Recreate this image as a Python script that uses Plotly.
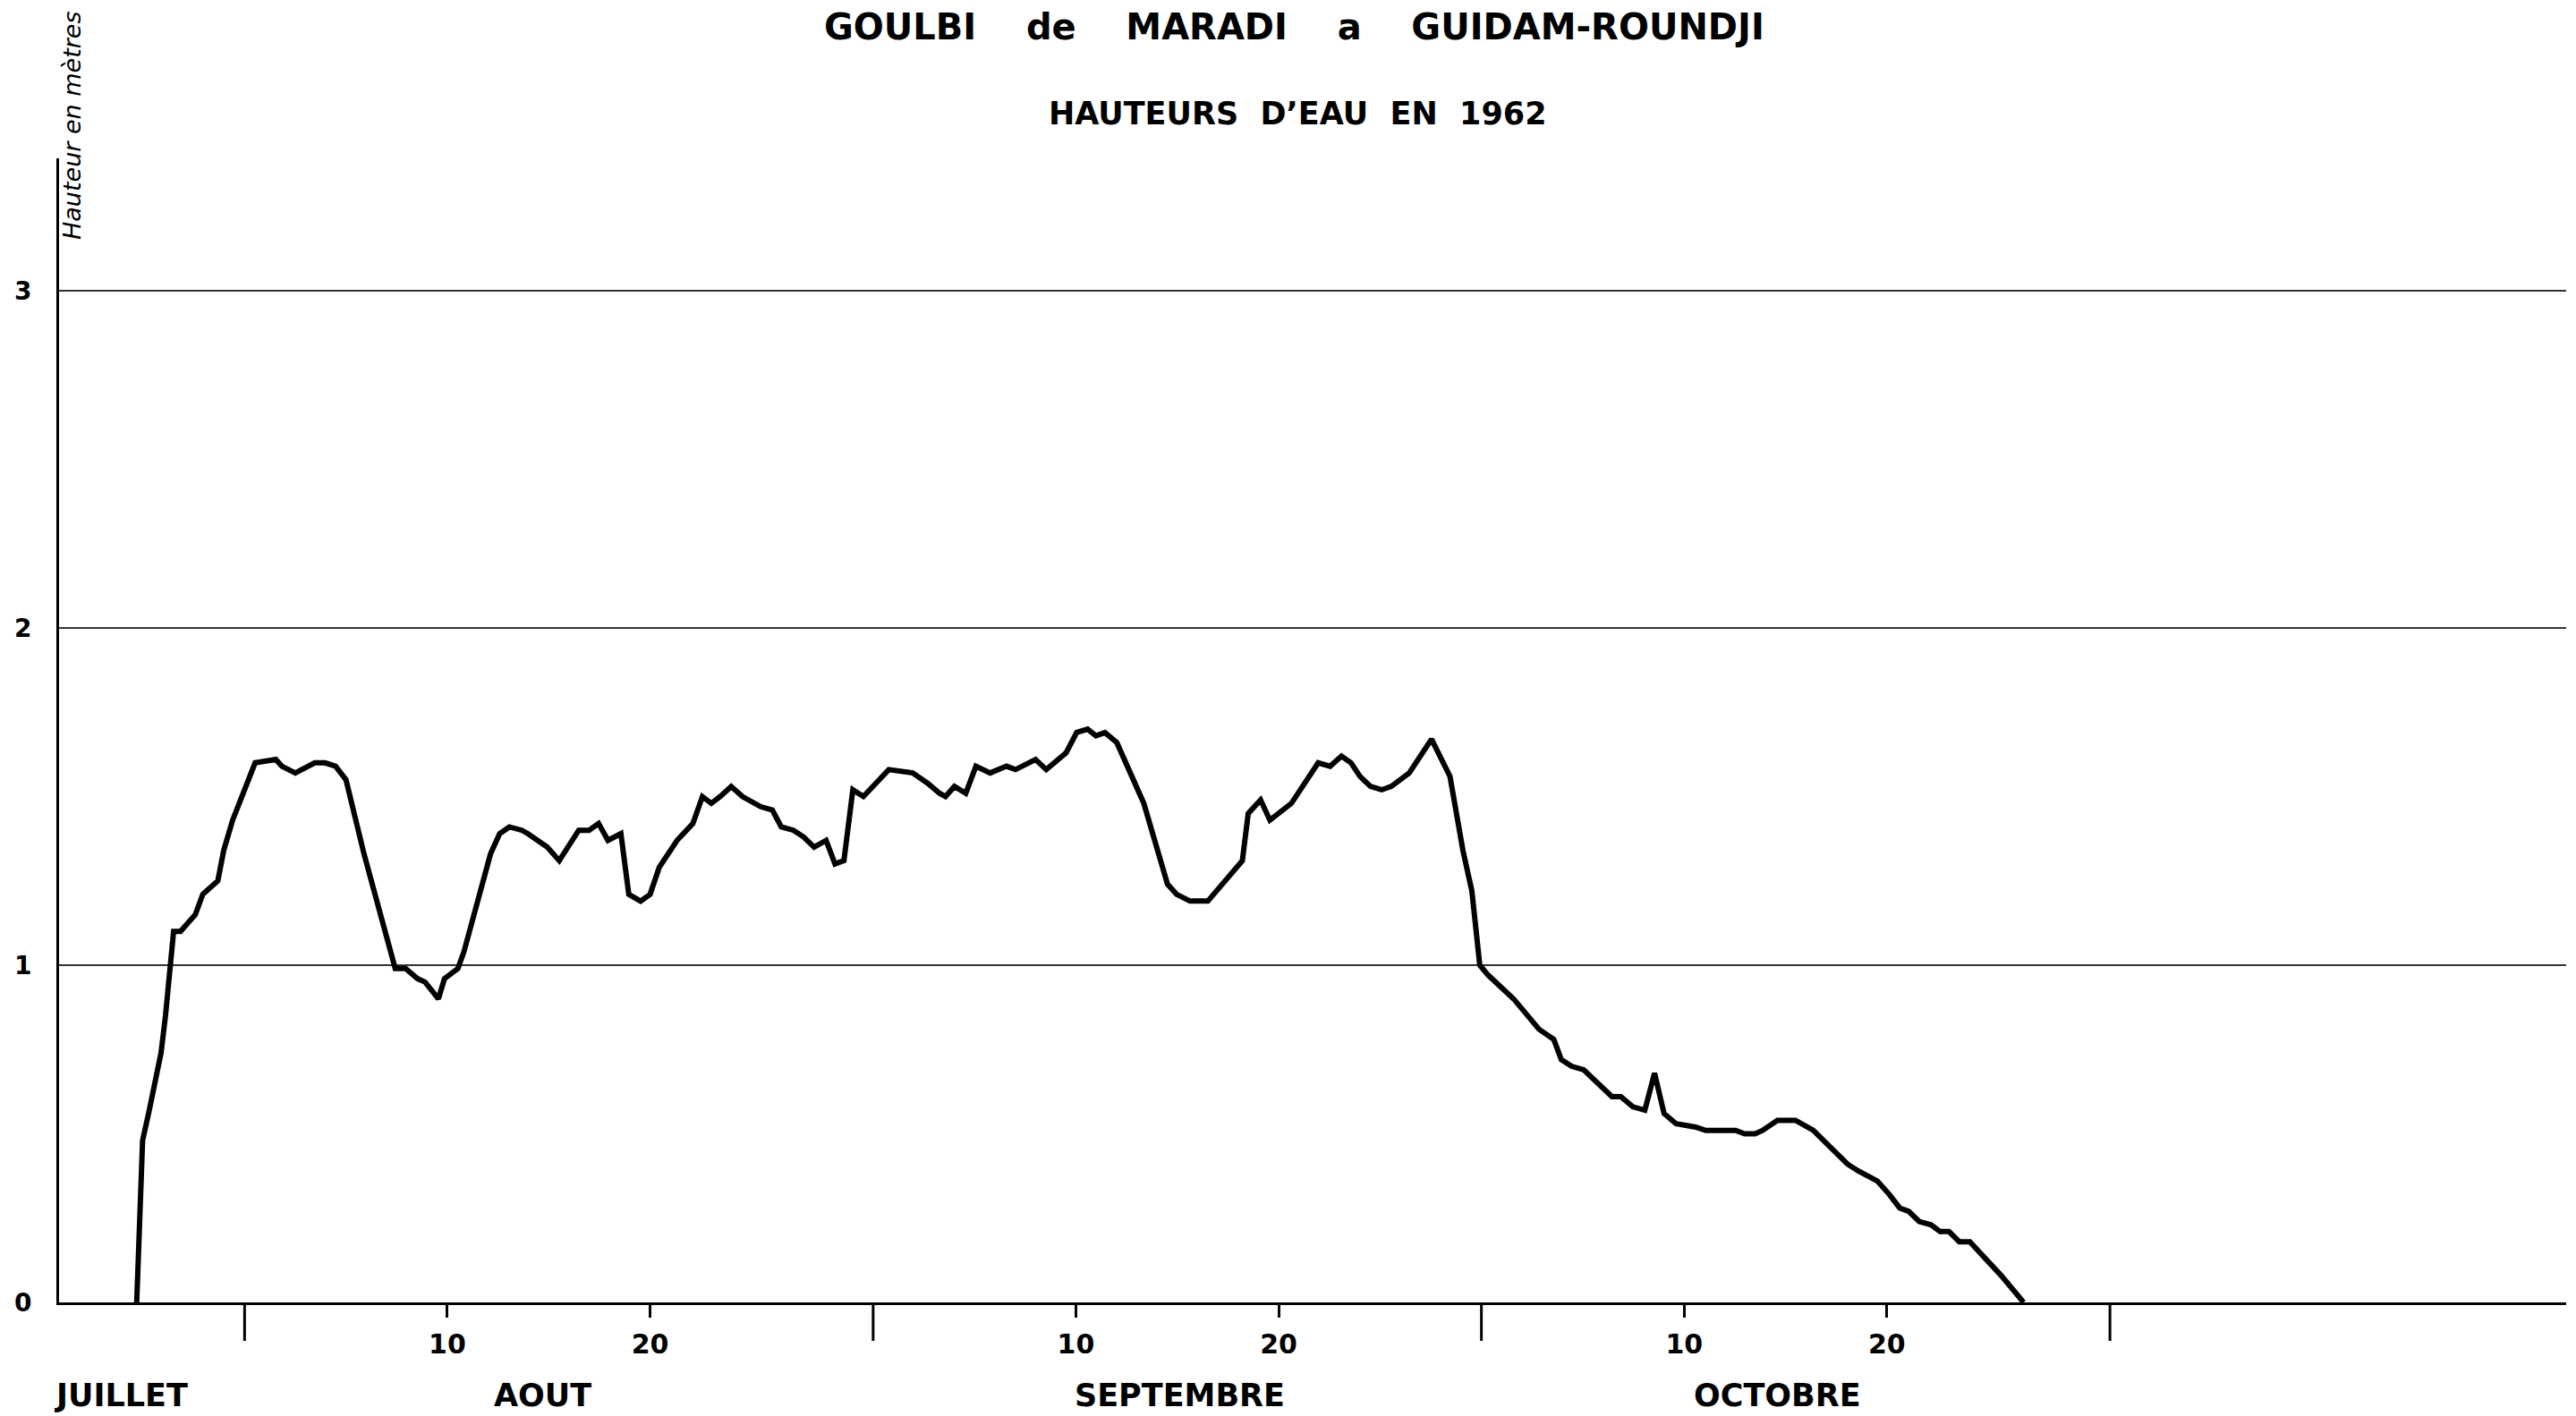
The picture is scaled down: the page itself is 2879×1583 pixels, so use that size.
import plotly.graph_objects as go

# jours comptés depuis le 30 juin 1962 (1er août = 32, 1er sept = 63, 1er oct = 93)
jours = [25.68, 25.75, 25.97, 26.30, 26.88, 27.10, 27.32, 27.50, 27.84, 28.57,
         28.94, 29.68, 29.97, 30.41, 31.52, 32.54, 32.84, 33.50, 34.46, 34.97,
         35.49, 36.00, 36.89, 37.55, 38.43, 38.94, 39.53, 39.90, 40.56, 40.86,
         41.52, 41.82, 43.13, 43.58, 44.06, 44.68, 44.97, 45.93, 46.52, 47.48,
         47.99, 48.46, 48.92, 49.56, 49.95, 50.53, 51.00, 51.45, 52.33, 53.11,
         53.58, 54.02, 54.46, 55.00, 55.56, 56.45, 57.03, 57.47, 58.07, 58.58,
         59.09, 59.68, 60.12, 60.56, 61.00, 61.52, 62.18, 62.77, 63.95, 64.68,
         65.27, 65.57, 66.01, 66.57, 67.07, 67.77, 68.58, 69.02, 70.01, 70.54,
         71.52, 72.04, 72.58, 72.99, 73.43, 74.02, 75.35, 76.52, 76.97, 77.63,
         78.51, 79.61, 80.21, 80.50, 81.11, 81.57, 82.63, 83.95, 84.54, 85.10,
         85.57, 86.01, 86.53, 87.08, 87.56, 88.44, 89.54, 90.45, 91.09, 91.53,
         91.92, 92.34, 93.59, 94.84, 95.57, 95.94, 96.45, 97.04, 97.78, 98.44,
         98.88, 99.47, 100.06, 100.54, 101.01, 101.60, 102.56, 103.07, 104.54, 104.98,
         105.50, 105.87, 106.60, 107.49, 108.37, 109.40, 110.06, 110.58, 111.53, 112.12,
         112.63, 113.07, 113.59, 114.18, 114.62, 115.06, 115.57, 116.09, 116.90, 117.63,
         118.74]
hauteur = [0.00, 0.12, 0.48, 0.57, 0.74, 0.85, 1.01, 1.10, 1.10, 1.15,
           1.21, 1.25, 1.34, 1.43, 1.60, 1.61, 1.59, 1.57, 1.60, 1.60,
           1.59, 1.55, 1.33, 1.19, 0.99, 0.99, 0.96, 0.95, 0.90, 0.96,
           0.99, 1.04, 1.33, 1.39, 1.41, 1.40, 1.39, 1.35, 1.31, 1.40,
           1.40, 1.42, 1.37, 1.39, 1.21, 1.19, 1.21, 1.29, 1.37, 1.42,
           1.50, 1.48, 1.50, 1.53, 1.50, 1.47, 1.46, 1.41, 1.40, 1.38,
           1.35, 1.37, 1.30, 1.31, 1.52, 1.50, 1.54, 1.58, 1.57, 1.54,
           1.51, 1.50, 1.53, 1.51, 1.59, 1.57, 1.59, 1.58, 1.61, 1.58,
           1.63, 1.69, 1.70, 1.68, 1.69, 1.66, 1.48, 1.24, 1.21, 1.19,
           1.19, 1.27, 1.31, 1.45, 1.49, 1.43, 1.48, 1.60, 1.59, 1.62,
           1.60, 1.56, 1.53, 1.52, 1.53, 1.57, 1.67, 1.56, 1.34, 1.22,
           1.00, 0.97, 0.90, 0.81, 0.78, 0.72, 0.70, 0.69, 0.65, 0.61,
           0.61, 0.58, 0.57, 0.68, 0.56, 0.53, 0.52, 0.51, 0.51, 0.50,
           0.50, 0.51, 0.54, 0.54, 0.51, 0.45, 0.41, 0.39, 0.36, 0.32,
           0.28, 0.27, 0.24, 0.23, 0.21, 0.21, 0.18, 0.18, 0.13, 0.08,
           0.00]

jours_ticks = [41, 51, 72, 82, 102, 112]
jours_labels = ["10", "20", "10", "20", "10", "20"]
limites_mois = [31, 62, 92, 123]
mois = ["JUILLET", "AOUT", "SEPTEMBRE", "OCTOBRE"]
mois_pos = [24.9, 45.7, 77.1, 106.6]

# the page body adds an 8px margin, so the figure is drawn 8px smaller
OFF = 8
W, H = 2879 - OFF, 1583 - OFF
ML, MR, MT, MB = 66 - OFF, 11, 177 - OFF, 127
plot_h = H - MT - MB
plot_w = W - ML - MR
base = H - MB  # pixel row of y=0 in figure coords
FONT = "DejaVu Sans"
NB = "\u00a0"


def px_x(xref_px):
    return (xref_px - OFF - ML) / plot_w


def px_y(yref_px):
    return (base - (yref_px - OFF)) / plot_h


fig = go.Figure()
fig.add_trace(go.Scatter(x=jours, y=hauteur, mode="lines",
                         line=dict(color="black", width=6),
                         showlegend=False, hoverinfo="skip"))

# long ticks at month boundaries
for t in limites_mois:
    fig.add_shape(type="line", xref="x", yref="paper", x0=t, x1=t,
                  y0=0, y1=-43 / plot_h, line=dict(color="black", width=3))

for name, t in zip(mois, mois_pos):
    fig.add_annotation(x=t, y=px_y(1560), xref="x", yref="paper",
                       text="<b>" + name + "</b>", showarrow=False,
                       yanchor="middle", xanchor="center",
                       font=dict(family=FONT, size=35, color="black"))

fig.add_annotation(x=px_x(1446), y=px_y(30), xref="paper", yref="paper", showarrow=False,
                   text="<b>GOULBI" + NB * 4 + "de" + NB * 4 + "MARADI" + NB * 4 + "a"
                        + NB * 4 + "GUIDAM-ROUNDJI</b>",
                   yanchor="middle", font=dict(family=FONT, size=40, color="black"))
fig.add_annotation(x=px_x(1450), y=px_y(127), xref="paper", yref="paper", showarrow=False,
                   text="<b>HAUTEURS" + NB * 2 + "D’EAU" + NB * 2 + "EN" + NB * 2 + "1962</b>",
                   yanchor="middle", font=dict(family=FONT, size=35, color="black"))
fig.add_annotation(x=px_x(81), y=px_y(140), xref="paper", yref="paper",
                   showarrow=False, textangle=-90,
                   text="<i>Hauteur en mètres</i>", xanchor="center", yanchor="middle",
                   font=dict(family=FONT, size=27, color="black"))

fig.update_layout(
    width=W, height=H,
    margin=dict(l=ML, r=MR, t=MT, b=MB, autoexpand=False),
    paper_bgcolor="white", plot_bgcolor="white",
    xaxis=dict(range=[21.85, 145.5], showgrid=False, zeroline=False,
               showline=True, linecolor="black", linewidth=3,
               tickmode="array", tickvals=jours_ticks,
               ticktext=["<b>" + s + "</b>" for s in jours_labels],
               ticks="outside", ticklen=14, tickwidth=3, tickcolor="black",
               ticklabelstandoff=4,
               tickfont=dict(family=FONT, size=30, color="black")),
    yaxis=dict(range=[0, plot_h / 377], showgrid=True, gridcolor="#333",
               gridwidth=1.5, zeroline=False, showline=True, linecolor="black",
               linewidth=3, tickmode="array", tickvals=[0, 1, 2, 3],
               ticktext=["<b>0</b>", "<b>1</b>", "<b>2</b>", "<b>3</b>"],
               ticks="", ticklabelstandoff=22,
               tickfont=dict(family=FONT, size=28, color="black")),
)

fig.write_html("out.html")
